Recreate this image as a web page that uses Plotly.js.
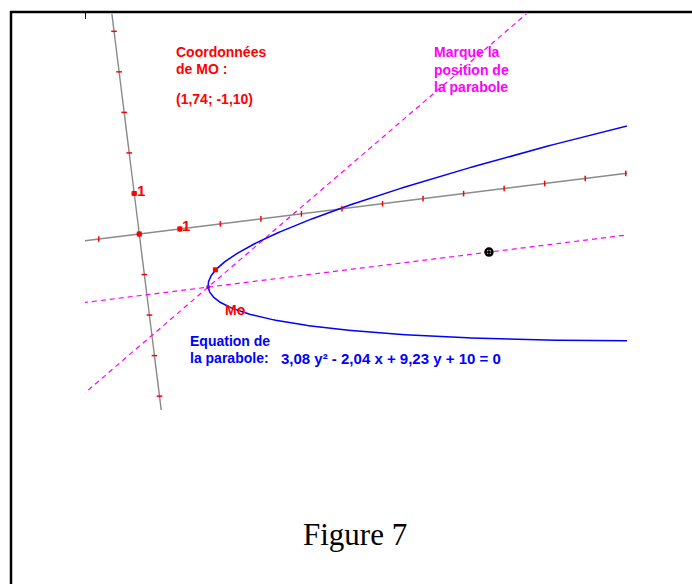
<!DOCTYPE html>
<html>
<head>
<meta charset="utf-8">
<script src="https://cdn.plot.ly/plotly-3.0.1.min.js"></script>
<style>html,body{margin:0;padding:0;background:#fff;}#chart{width:692px;height:584px;}</style>
</head>
<body>
<div id="chart"></div>
<script>
// ---- Data (in the figure's own orthonormal frame) ----
// parabola: a*y^2 + b*x + c*y + d = 0
const parabolaCoefs = [3.08, -2.04, 9.23, 10];
const parabolaYRange = [-4.6, 1.6];
const xTickValues = [-1, 0, 1, 2, 3, 4, 5, 6, 7, 8, 9, 10, 11, 12];
const yTickValues = [-4, -3, -2, -1, 0, 1, 2, 3, 4, 5];
const unitPoints = [[0, 0], [1, 0], [0, 1]];
const moPoint = [1.74, -1.10];
const markPoint = [8.44, -1.498];
const diagonalSlope = 0.663;
const texts = {
  coordTitle: ['Coordonnées', 'de MO :'],
  coordValue: '(1,74; -1,10)',
  mark: ['Marque la', 'position de', 'la parabole'],
  equation: ['Equation de', 'la parabole:', '3,08 y² - 2,04 x + 9,23 y + 10 = 0'],
  caption: 'Figure 7'
};

// ---- Layout constants (pixels) ----
const W = 692, H = 584;
const plotL = 85, plotR = 627, plotT = 14, plotB = 410;
const originPx = [139.3, 234];
const unitPx = 40.85;
const theta = 7.1 * Math.PI / 180;
const cs = Math.cos(theta), sn = Math.sin(theta);

function toScreen(xf, yf) { return [xf * cs - yf * sn, xf * sn + yf * cs]; }
function pts(list) {
  const X = [], Y = [];
  list.forEach(p => { const s = toScreen(p[0], p[1]); X.push(s[0]); Y.push(s[1]); });
  return {x: X, y: Y};
}
function px2x(p) { return (p - plotL) / (plotR - plotL); }
function px2y(p) { return (plotB - p) / (plotB - plotT); }

// parabola points from its stated equation
const [pa, pb, pc, pd] = parabolaCoefs;
const parList = [];
for (let i = 0; i <= 400; i++) {
  const y = parabolaYRange[0] + (parabolaYRange[1] - parabolaYRange[0]) * i / 400;
  const x = -(pa * y * y + pc * y + pd) / pb;
  parList.push([x, y]);
}
const vy = -pc / (2 * pa);
const vx = -(pa * vy * vy + pc * vy + pd) / pb;

const gray = '#8a8a8a';
const traces = [];
// frame axes
traces.push(Object.assign(pts([[-3, 0], [14, 0]]), {mode: 'lines', line: {color: gray, width: 1.4}}));
traces.push(Object.assign(pts([[0, -6], [0, 7]]), {mode: 'lines', line: {color: gray, width: 1.4}}));
// magenta dashed lines
traces.push(Object.assign(pts([[-4, vy], [16, vy]]), {mode: 'lines', line: {color: '#ff00ff', width: 1.2, dash: '5px,4px'}}));
traces.push(Object.assign(pts([[vx - 8, vy - 8 * diagonalSlope], [vx + 12, vy + 12 * diagonalSlope]]), {mode: 'lines', line: {color: '#ff00ff', width: 1.2, dash: '5px,4px'}}));
// parabola
traces.push(Object.assign(pts(parList), {mode: 'lines', line: {color: '#0000ff', width: 1.5}}));
// ticks
traces.push(Object.assign(pts(xTickValues.map(v => [v, 0])), {mode: 'markers', marker: {symbol: 'line-ns', size: 4, line: {color: '#ff0000', width: 1.5}}}));
traces.push(Object.assign(pts(yTickValues.map(v => [0, v])), {mode: 'markers', marker: {symbol: 'line-ew', size: 4, line: {color: '#ff0000', width: 1.5}}}));
// unit points
traces.push(Object.assign(pts(unitPoints), {mode: 'markers', marker: {symbol: 'square', size: 5, color: '#ff0000'}}));
// Mo
traces.push(Object.assign(pts([moPoint]), {mode: 'markers', marker: {symbol: 'square', size: 5, color: '#ff0000'}}));
// vertex
traces.push(Object.assign(pts([[vx, vy]]), {mode: 'markers', marker: {symbol: 'circle', size: 4, color: '#9000c0'}}));
// mark point
traces.push(Object.assign(pts([markPoint]), {mode: 'markers', marker: {symbol: 'circle-open-dot', size: 7, color: '#000', line: {color: '#000', width: 2.5}}}));

const sansB = {family: 'Liberation Sans, Arial, sans-serif', size: 14};
function ann(text, xp, yp, color, size) {
  return {
    text: '<b>' + text + '</b>', xref: 'paper', yref: 'paper',
    x: px2x(xp - 2), y: px2y(yp), xanchor: 'left', yanchor: 'middle',
    showarrow: false, font: Object.assign({}, sansB, {color: color}, size ? {size: size} : {})
  };
}
const annotations = [
  ann(texts.coordTitle[0], 176, 52, '#ff0000'),
  ann(texts.coordTitle[1], 176, 69, '#ff0000'),
  ann(texts.coordValue, 176, 99, '#ff0000'),
  ann(texts.mark[0], 434, 52, '#ff00ff'),
  ann(texts.mark[1], 434, 70, '#ff00ff'),
  ann(texts.mark[2], 434, 87, '#ff00ff'),
  ann('1', 137, 190, '#ff0000', 15),
  ann('1', 182, 225, '#ff0000', 15),
  ann('Mo', 225, 310, '#ff0000'),
  ann(texts.equation[0], 190, 341, '#0000ff'),
  ann(texts.equation[1], 190, 358, '#0000ff'),
  ann(texts.equation[2], 281, 358, '#0000ff', 15),
  {text: texts.caption, xref: 'paper', yref: 'paper', x: px2x(355), y: px2y(534),
   xanchor: 'center', yanchor: 'middle', showarrow: false,
   font: {family: 'Liberation Serif, Times New Roman, serif', size: 31, color: '#000'}}
];

const shapes = [
  {type: 'line', xref: 'paper', yref: 'paper', x0: px2x(10), x1: px2x(692), y0: px2y(12), y1: px2y(12), line: {color: '#000', width: 2.5}},
  {type: 'line', xref: 'paper', yref: 'paper', x0: px2x(11), x1: px2x(11), y0: px2y(11), y1: px2y(584), line: {color: '#000', width: 2.5}},
  {type: 'line', xref: 'paper', yref: 'paper', x0: px2x(85.5), x1: px2x(85.5), y0: px2y(13), y1: px2y(19), line: {color: '#000', width: 1}}
];

const layout = {
  width: W, height: H,
  margin: {l: plotL, r: W - plotR, t: plotT, b: H - plotB, pad: 0},
  paper_bgcolor: '#fff', plot_bgcolor: '#fff',
  showlegend: false,
  xaxis: {range: [(plotL - originPx[0]) / unitPx, (plotR - originPx[0]) / unitPx], visible: false, fixedrange: true},
  yaxis: {range: [(originPx[1] - plotB) / unitPx, (originPx[1] - plotT) / unitPx], visible: false, fixedrange: true},
  annotations: annotations,
  shapes: shapes
};
Plotly.newPlot('chart', traces, layout, {displayModeBar: false, staticPlot: true});
</script>
</body>
</html>
